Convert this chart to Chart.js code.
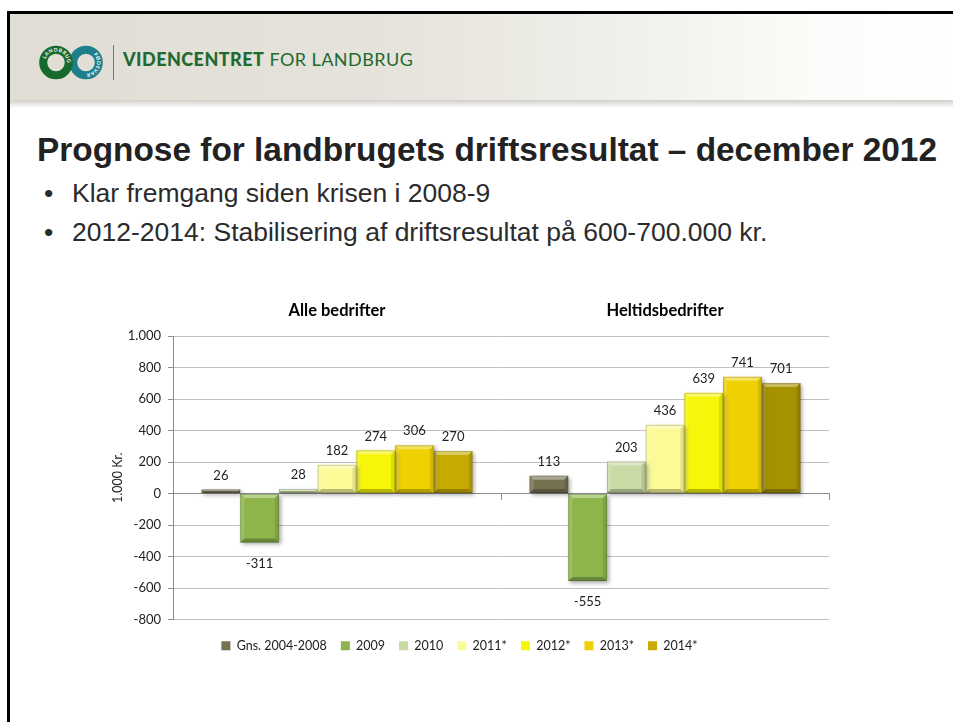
<!DOCTYPE html>
<html>
<head>
<meta charset="utf-8">
<script src="https://cdn.jsdelivr.net/npm/chart.js@4.4.1/dist/chart.umd.min.js"></script>
<style>
html,body{margin:0;padding:0;background:#fff;width:953px;height:722px;overflow:hidden;font-family:"Liberation Sans",Arial,sans-serif;}
#frameTop{position:absolute;left:7px;top:11px;width:946px;height:3px;background:#000;}
#frameLeft{position:absolute;left:7px;top:11px;width:3px;height:711px;background:#000;}
#header{position:absolute;left:10px;top:14px;width:943px;height:86px;background:linear-gradient(90deg,#dfddd4 0%,#e5e3db 40%,#f2f1ec 68%,#fcfcfa 86%,#fff 100%);}
#headerShadow{position:absolute;left:10px;top:100px;width:943px;height:8px;background:linear-gradient(180deg,rgba(170,168,158,0.55),rgba(255,255,255,0));}
#logo{position:absolute;left:36px;top:42px;}
#sep{position:absolute;left:113px;top:45px;width:1px;height:35px;background:#4f8f4f;}
#brand{position:absolute;left:123px;top:50px;font-family:Lato,sans-serif;font-size:18px;line-height:18px;color:#22692f;white-space:nowrap;letter-spacing:0.45px;}
#brand b{font-weight:900;}
#title{position:absolute;left:37px;top:133px;font-size:33.4px;line-height:33px;font-weight:bold;color:#222;white-space:nowrap;}
.bullet{position:absolute;left:44px;font-size:26.5px;line-height:26.5px;color:#2b2b2b;white-space:nowrap;}
.bullet span{position:absolute;left:28px;}
#chartBox{position:absolute;left:90px;top:290px;width:760px;height:380px;}
</style>
</head>
<body>
<div id="frameTop"></div>
<div id="frameLeft"></div>
<div id="header"></div>
<div id="headerShadow"></div>
<svg id="logo" width="72" height="42" viewBox="0 0 72 42">
  <defs>
    <path id="arcL" d="M 20 31.5 A 11 11 0 1 1 20.01 31.5" />
    <path id="arcR" d="M 50 31.5 A 11 11 0 1 1 50.01 31.5" />
  </defs>
  <circle cx="50" cy="20.5" r="12.8" fill="none" stroke="#1d7f8a" stroke-width="8"/>
  <circle cx="20" cy="20.5" r="12.8" fill="none" stroke="#176a2e" stroke-width="8"/>
  <text font-family="Lato,sans-serif" font-size="5" font-weight="bold" fill="#fff" letter-spacing="0.5"><textPath href="#arcL" startOffset="30%">LANDBRUG</textPath></text>
  <text font-family="Lato,sans-serif" font-size="5" font-weight="bold" fill="#fff" letter-spacing="0.3"><textPath href="#arcR" startOffset="62%">FØDEVARER</textPath></text>
</svg>
<div id="sep"></div>
<div id="brand"><b>VIDENCENTRET</b> FOR LANDBRUG</div>
<div id="title">Prognose for landbrugets driftsresultat – december 2012</div>
<div class="bullet" style="top:180px;">•<span>Klar fremgang siden krisen i 2008-9</span></div>
<div class="bullet" style="top:218.5px;">•<span>2012-2014: Stabilisering af driftsresultat på 600-700.000 kr.</span></div>
<div id="chartBox"><canvas id="c" width="760" height="380"></canvas></div>
<script>
// ---- data ----
const categories = ['Alle bedrifter', 'Heltidsbedrifter'];
const seriesNames = ['Gns. 2004-2008', '2009', '2010', '2011*', '2012*', '2013*', '2014*'];
const gns20042008 = [26, 113];
const v2009 = [-311, -555];
const v2010 = [28, 203];
const v2011 = [182, 436];
const v2012 = [274, 639];
const v2013 = [306, 741];
const v2014 = [270, 701];
const yMin = -800, yMax = 1000, yStep = 200;
const yAxisTitle = '1.000 Kr.';

// ---- styles ----
const palette = ['#74724f', '#8db54b', '#c9dba5', '#fbfa97', '#f6f50a', '#efd000', ['#c7ab00', '#a69200']];
const seriesValues = [gns20042008, v2009, v2010, v2011, v2012, v2013, v2014];

function fmt(v) {
  const s = Math.abs(v).toString().replace(/\B(?=(\d{3})+(?!\d))/g, '.');
  return (v < 0 ? '-' : '') + s;
}

Chart.defaults.font.family = 'Lato, sans-serif';
Chart.defaults.color = '#333';

const barStyle = {
  id: 'barStyle',
  beforeDatasetsDraw(chart) {
    const ctx = chart.ctx;
    ctx.save();
    ctx.shadowColor = 'rgba(0,0,0,0.35)';
    ctx.shadowBlur = 4;
    ctx.shadowOffsetX = 2;
    ctx.shadowOffsetY = 2;
  },
  afterDatasetsDraw(chart) {
    const ctx = chart.ctx;
    ctx.restore();
    chart.data.datasets.forEach((ds, i) => {
      const meta = chart.getDatasetMeta(i);
      meta.data.forEach((el) => {
        const p = el.getProps(['x', 'y', 'base', 'width'], true);
        const l = p.x - p.width / 2, r = p.x + p.width / 2;
        const t = Math.min(p.y, p.base), b = Math.max(p.y, p.base);
        const h = b - t;
        const e = Math.min(4, h / 2, p.width / 2);
        const poly = (pts, fill) => {
          ctx.beginPath();
          ctx.moveTo(pts[0][0], pts[0][1]);
          for (let k = 1; k < pts.length; k++) ctx.lineTo(pts[k][0], pts[k][1]);
          ctx.closePath();
          ctx.fillStyle = fill;
          ctx.fill();
        };
        ctx.save();
        poly([[l, t], [r, t], [r - e, t + e], [l + e, t + e]], 'rgba(255,255,255,0.38)');
        poly([[l, t], [l + e, t + e], [l + e, b - e], [l, b]], 'rgba(255,255,255,0.15)');
        poly([[r, t], [r, b], [r - e, b - e], [r - e, t + e]], 'rgba(0,0,0,0.10)');
        poly([[l, b], [l + e, b - e], [r - e, b - e], [r, b]], 'rgba(0,0,0,0.25)');
        ctx.strokeStyle = 'rgba(0,0,0,0.18)';
        ctx.lineWidth = 1;
        ctx.strokeRect(l + 0.5, t + 0.5, p.width - 1, Math.max(h - 1, 0));
        ctx.restore();
      });
    });
  }
};

const valueLabels = {
  id: 'valueLabels',
  afterDatasetsDraw(chart) {
    const ctx = chart.ctx;
    ctx.save();
    ctx.font = '13px Lato, sans-serif';
    ctx.fillStyle = '#222';
    ctx.textAlign = 'center';
    ctx.textBaseline = 'middle';
    chart.data.datasets.forEach((ds, i) => {
      const meta = chart.getDatasetMeta(i);
      meta.data.forEach((el, j) => {
        const v = ds.data[j];
        const y = v >= 0 ? el.y - 14 : el.y + 21;
        ctx.fillText(fmt(v), el.x, y);
      });
    });
    ctx.restore();
  }
};

const legendShift = {
  id: 'legendShift',
  afterLayout(chart) {
    const lg = chart.legend;
    const h = lg.bottom - lg.top;
    lg.top = chart.chartArea.bottom + 6;
    lg.bottom = lg.top + h;
  }
};

new Chart(document.getElementById('c'), {
  type: 'bar',
  data: {
    labels: categories,
    datasets: seriesNames.map((name, i) => ({
      label: name,
      data: seriesValues[i],
      backgroundColor: palette[i],
      borderWidth: 0,
      barPercentage: 1,
      categoryPercentage: 0.826
    }))
  },
  options: {
    responsive: false,
    animation: false,
    layout: { padding: { top: 0, right: 21, bottom: 14, left: 0 } },
    plugins: {
      legend: {
        position: 'bottom',
        labels: { boxWidth: 9, boxHeight: 9, padding: 14, color: '#222', font: { size: 12.5 } }
      },
      tooltip: { enabled: false }
    },
    scales: {
      x: {
        type: 'category',
        position: { y: 0 },
        offset: true,
        grid: { display: true, drawOnChartArea: false, drawTicks: true, tickLength: 6, tickColor: '#8c8c8c', offset: true },
        border: { display: true, color: '#8c8c8c', width: 1 },
        ticks: { display: false }
      },
      x2: {
        axis: 'x',
        type: 'category',
        position: 'top',
        labels: categories,
        offset: true,
        grid: { display: false, drawTicks: false },
        border: { display: false },
        ticks: { color: '#000', padding: 15, font: { size: 16.5, weight: 'bold' } },
        afterFit(s) { s.height = 46; }
      },
      y: {
        min: yMin,
        max: yMax,
        ticks: { stepSize: yStep, callback: (v) => fmt(v), color: '#222', padding: 7, font: { size: 13 } },
        grid: { color: '#c0c0c0', tickColor: '#8c8c8c', tickLength: 5, drawTicks: true },
        border: { display: true, color: '#8c8c8c' },
        title: { display: true, text: yAxisTitle, color: '#222', font: { size: 12.5 }, padding: { top: 20, bottom: 0 } },
        afterFit(s) { s.width = 83; }
      }
    }
  },
  plugins: [barStyle, valueLabels, legendShift]
});
</script>
</body>
</html>
